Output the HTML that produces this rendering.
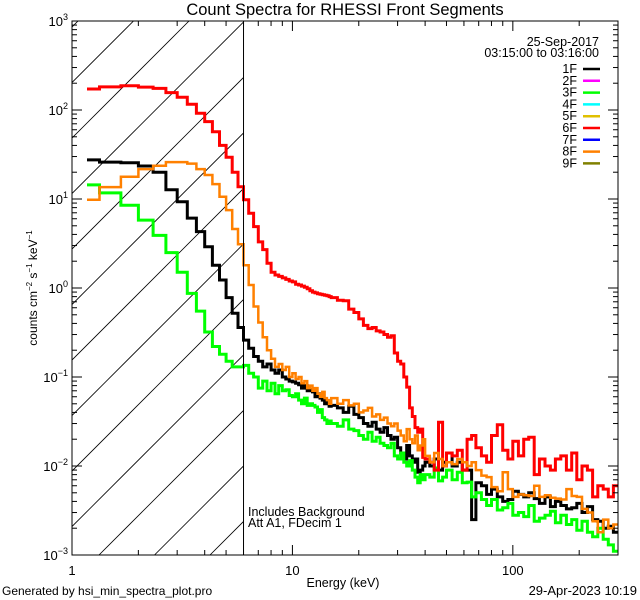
<!DOCTYPE html>
<html><head><meta charset="utf-8"><style>
html,body{margin:0;padding:0;background:#fff;}
svg{display:block;font-family:"Liberation Sans",sans-serif;}
</style></head><body>
<svg id="chart" width="640" height="600" viewBox="0 0 640 600" xmlns="http://www.w3.org/2000/svg">
<defs><clipPath id="plotclip"><rect x="72" y="21" width="546" height="534"/></clipPath>
<clipPath id="hatchclip"><rect x="72" y="21" width="172" height="534"/></clipPath></defs>
<rect width="640" height="600" fill="#fff"/>
<text x="345" y="15" font-size="16.5" text-anchor="middle">Count Spectra for RHESSI Front Segments</text>
<g id="hatch" clip-path="url(#hatchclip)"></g>
<g id="series" clip-path="url(#plotclip)"></g>
<g id="axes"></g>
<text x="343" y="587" font-size="12.5" text-anchor="middle">Energy (keV)</text>
<text transform="translate(37,288) rotate(-90)" font-size="12" text-anchor="middle">counts cm<tspan font-size="8" dy="-5">−2</tspan><tspan dy="5"> s</tspan><tspan font-size="8" dy="-5">−1</tspan><tspan dy="5"> keV</tspan><tspan font-size="8" dy="-5">−1</tspan></text>
<text x="248" y="516" font-size="12.5">Includes Background</text>
<text x="248" y="527" font-size="12.5">Att A1, FDecim 1</text>
<text x="2" y="595" font-size="12">Generated by hsi_min_spectra_plot.pro</text>
<text x="637" y="595" font-size="13" text-anchor="end">29-Apr-2023 10:19</text>
<text x="599" y="46" font-size="12.5" text-anchor="end">25-Sep-2017</text>
<text x="599" y="57" font-size="12.5" text-anchor="end">03:15:00 to 03:16:00</text>
<g id="legend"></g>
</svg>
<script>
var edgesHigh=[40,42,44,46,48,50,53,56,59,62,65,68,72,76,80,85,90,95,100,106,112,118,125,132,140,148,156,165,175,185,195,206,218,230,243,257,271,286,300];
var legendLabels=["1F","2F","3F","4F","5F","6F","7F","8F","9F"];
var legendColors=["#000000","#ff00ff","#00ff00","#00ffff","#e0c000","#ff0000","#0000ff","#ff8000","#808000"];
var seg1F=[27.5,26,25.5,23.5,20,12.7,9.3,6.1,4.3,2.9,1.8,1.23,0.78,0.52,0.36,0.26,0.21,0.17,0.15,0.13,0.14,0.12,0.11,0.12,0.10,0.095,0.09,0.088,0.085,0.082,0.075,0.08,0.07,0.072,0.068,0.06,0.065,0.058,0.055,0.05,0.052,0.047,
0.048,0.045,0.04,0.047,0.038,0.035,0.03,0.028,0.031,0.026,0.024,0.027,0.022,0.02,0.021,0.016,0.014,0.012,0.017,0.013,0.011,0.012,0.0085,0.009,0.01,
0.011,0.01,0.012,0.009,0.011,0.014,0.01,0.011,0.009,0.009,0.0025,0.0065,0.006,0.0048,0.0055,0.0045,0.004,0.0042,0.0052,0.0048,0.0045,0.005,0.0043,0.0038,0.0045,0.0035,0.004,0.0036,0.0033,0.0034,0.0038,0.003,0.0035,0.0025,0.0024,0.002,0.0021,0.0018];
var seg3F=[14.4,11.7,8.5,5.8,3.9,2.5,1.5,0.87,0.55,0.32,0.22,0.18,0.15,0.13,0.13,0.135,0.11,0.1,0.075,0.09,0.07,0.085,0.065,0.08,0.07,0.072,0.062,0.06,0.065,0.055,0.05,0.058,0.048,0.05,0.048,0.046,0.04,0.043,0.035,0.033,0.03,0.032,
0.03,0.028,0.033,0.026,0.025,0.022,0.02,0.024,0.019,0.021,0.018,0.017,0.016,0.018,0.013,0.012,0.014,0.011,0.01,0.0115,0.009,0.0075,0.0065,0.008,0.007,
0.008,0.0075,0.0095,0.0068,0.0075,0.009,0.007,0.0085,0.0065,0.0066,0.0045,0.005,0.0042,0.0036,0.0042,0.0032,0.0034,0.0038,0.0028,0.003,0.0027,0.0036,0.0024,0.0026,0.0028,0.0031,0.0023,0.0028,0.0022,0.0025,0.0019,0.0024,0.0018,0.0016,0.002,0.0015,0.0013,0.0011];
var seg6F=[172,182,187,181,175,157,139,116,92,74,57,40,29.5,20,13.7,9.8,6.9,4.9,3.3,2.7,1.9,1.5,1.4,1.35,1.3,1.25,1.2,1.17,1.1,1.08,1.05,1.02,0.98,0.93,0.9,0.88,0.86,0.85,0.84,0.83,0.82,0.8,
0.78,0.73,0.72,0.58,0.53,0.45,0.38,0.35,0.36,0.33,0.32,0.30,0.28,0.29,0.186,0.15,0.14,0.1,0.077,0.045,0.036,0.027,0.024,0.026,0.0125,
0.012,0.011,0.009,0.031,0.01,0.014,0.013,0.015,0.009,0.02,0.022,0.016,0.013,0.011,0.022,0.029,0.015,0.012,0.019,0.013,0.02,0.021,0.008,0.012,0.01,0.009,0.012,0.013,0.009,0.014,0.007,0.01,0.009,0.0045,0.006,0.0055,0.0045,0.006];
var seg8F=[9.8,13.6,17.8,21.7,23.6,26,26,25,21.7,18.6,14.7,10.6,7.5,4.6,3.1,1.8,1.08,0.62,0.41,0.28,0.2,0.16,0.13,0.14,0.12,0.13,0.1,0.11,0.095,0.1,0.085,0.09,0.075,0.08,0.07,0.075,0.065,0.06,0.068,0.058,0.055,0.05,
0.058,0.05,0.055,0.048,0.05,0.04,0.042,0.045,0.036,0.038,0.033,0.035,0.03,0.028,0.03,0.025,0.022,0.019,0.026,0.02,0.018,0.022,0.015,0.017,0.02,
0.013,0.011,0.014,0.012,0.01,0.011,0.0105,0.012,0.011,0.01,0.011,0.009,0.0078,0.0075,0.0058,0.0052,0.0085,0.0055,0.0045,0.0048,0.0047,0.0046,0.006,0.0045,0.0047,0.0044,0.0043,0.0042,0.0055,0.0046,0.0045,0.0033,0.003,0.0024,0.0018,0.0025,0.002,0.0022];

var NS="http://www.w3.org/2000/svg";
var X0=72,X1=618,Y0=21,Y1=555;
var XMIN=1,XMAX=300,YMIN=1e-3,YMAX=1e3;
function xs(e){return X0+(Math.log10(e)-Math.log10(XMIN))/(Math.log10(XMAX)-Math.log10(XMIN))*(X1-X0);}
function ys(v){return Y1-(Math.log10(v)-Math.log10(YMIN))/(Math.log10(YMAX)-Math.log10(YMIN))*(Y1-Y0);}
function mk(tag,attrs,parent){var el=document.createElementNS(NS,tag);for(var k in attrs)el.setAttribute(k,attrs[k]);parent.appendChild(el);return el;}

var edges=[1.17];
for(var i=4;i<=45;i++)edges.push(i/3);
for(var e=16;e<40;e++)edges.push(e);
edges=edges.concat(edgesHigh);

var hatch=document.getElementById('hatch');
for(var k=-12;k<4;k++){
  var c=654+k*55.5;
  var hl=mk('line',{x1:c-600,y1:600,x2:c,y2:0,stroke:'#000','stroke-width':0.8},hatch);
  
  
}

var axes=document.getElementById('axes');
var frame=mk('rect',{x:X0,y:Y0,width:X1-X0,height:Y1-Y0,fill:'none',stroke:'#000','stroke-width':1},axes);


var att=mk('line',{x1:xs(6),y1:Y0,x2:xs(6),y2:Y1,stroke:'#000','stroke-width':1},axes);


var xDecades=[1,10,100];
for(var d=0;d<3;d++){
  for(var m=1;m<10;m++){
    var ev=xDecades[d]*m; if(ev>XMAX)break;
    var x=xs(ev), len=(m==1)?10:5;
    var t1=mk('line',{x1:x,y1:Y1,x2:x,y2:Y1-len,stroke:'#000'},axes);
    
    
    var t2=mk('line',{x1:x,y1:Y0,x2:x,y2:Y0+len,stroke:'#000'},axes);
    
    
  }
  var lab=mk('text',{x:xs(xDecades[d]),y:575,'font-size':13,'text-anchor':'middle'},axes);
  lab.textContent=String(xDecades[d]);
  
  
}
var yExps=[-3,-2,-1,0,1,2,3];
for(var j=0;j<yExps.length;j++){
  var base=Math.pow(10,yExps[j]);
  for(var m2=1;m2<10;m2++){
    var v=base*m2; if(v>YMAX*1.0001)break;
    var y=ys(v), l2=(m2==1)?10:5;
    var a=mk('line',{x1:X0,y1:y,x2:X0+l2,y2:y,stroke:'#000'},axes);
    
    
    var b=mk('line',{x1:X1,y1:y,x2:X1-l2,y2:y,stroke:'#000'},axes);
    
    
  }
  var yl=mk('text',{x:X0-4,y:ys(base)+5,'font-size':13,'text-anchor':'end'},axes);
  
  
  yl.appendChild(document.createTextNode('10'));
  var sup=mk('tspan',{'font-size':9,dy:-6},yl);
  sup.textContent=(yExps[j]<0?'−':'')+Math.abs(yExps[j]);
}

var series=document.getElementById('series');
function drawSeries(vals,color,name,w){
  var d='';
  for(var i=0;i<vals.length;i++){
    var xa=xs(edges[i]).toFixed(1),xb=xs(edges[i+1]).toFixed(1),yy=ys(vals[i]).toFixed(1);
    d+=(i==0?'M':'L')+xa+','+yy+'L'+xb+','+yy;
  }
  var p=mk('path',{d:d,fill:'none',stroke:color,'stroke-width':w,'stroke-linejoin':'miter'},series);
  
  
}
drawSeries(seg1F,'#000000','series-1f',3);
drawSeries(seg3F,'#00ff00','series-3f',3);
drawSeries(seg6F,'#ff0000','series-6f',3);
drawSeries(seg8F,'#ff8000','series-8f',2.5);

var lg=document.getElementById('legend');
for(var n=0;n<legendLabels.length;n++){
  var ly=69+n*11.8;
  var lt=mk('text',{x:577,y:ly+4,'font-size':12.5,'text-anchor':'end'},lg);
  lt.textContent=legendLabels[n];
  
  
  var ll=mk('line',{x1:583,y1:ly,x2:600,y2:ly,stroke:legendColors[n],'stroke-width':2.5},lg);
  
  
}
</script>
</body></html>
